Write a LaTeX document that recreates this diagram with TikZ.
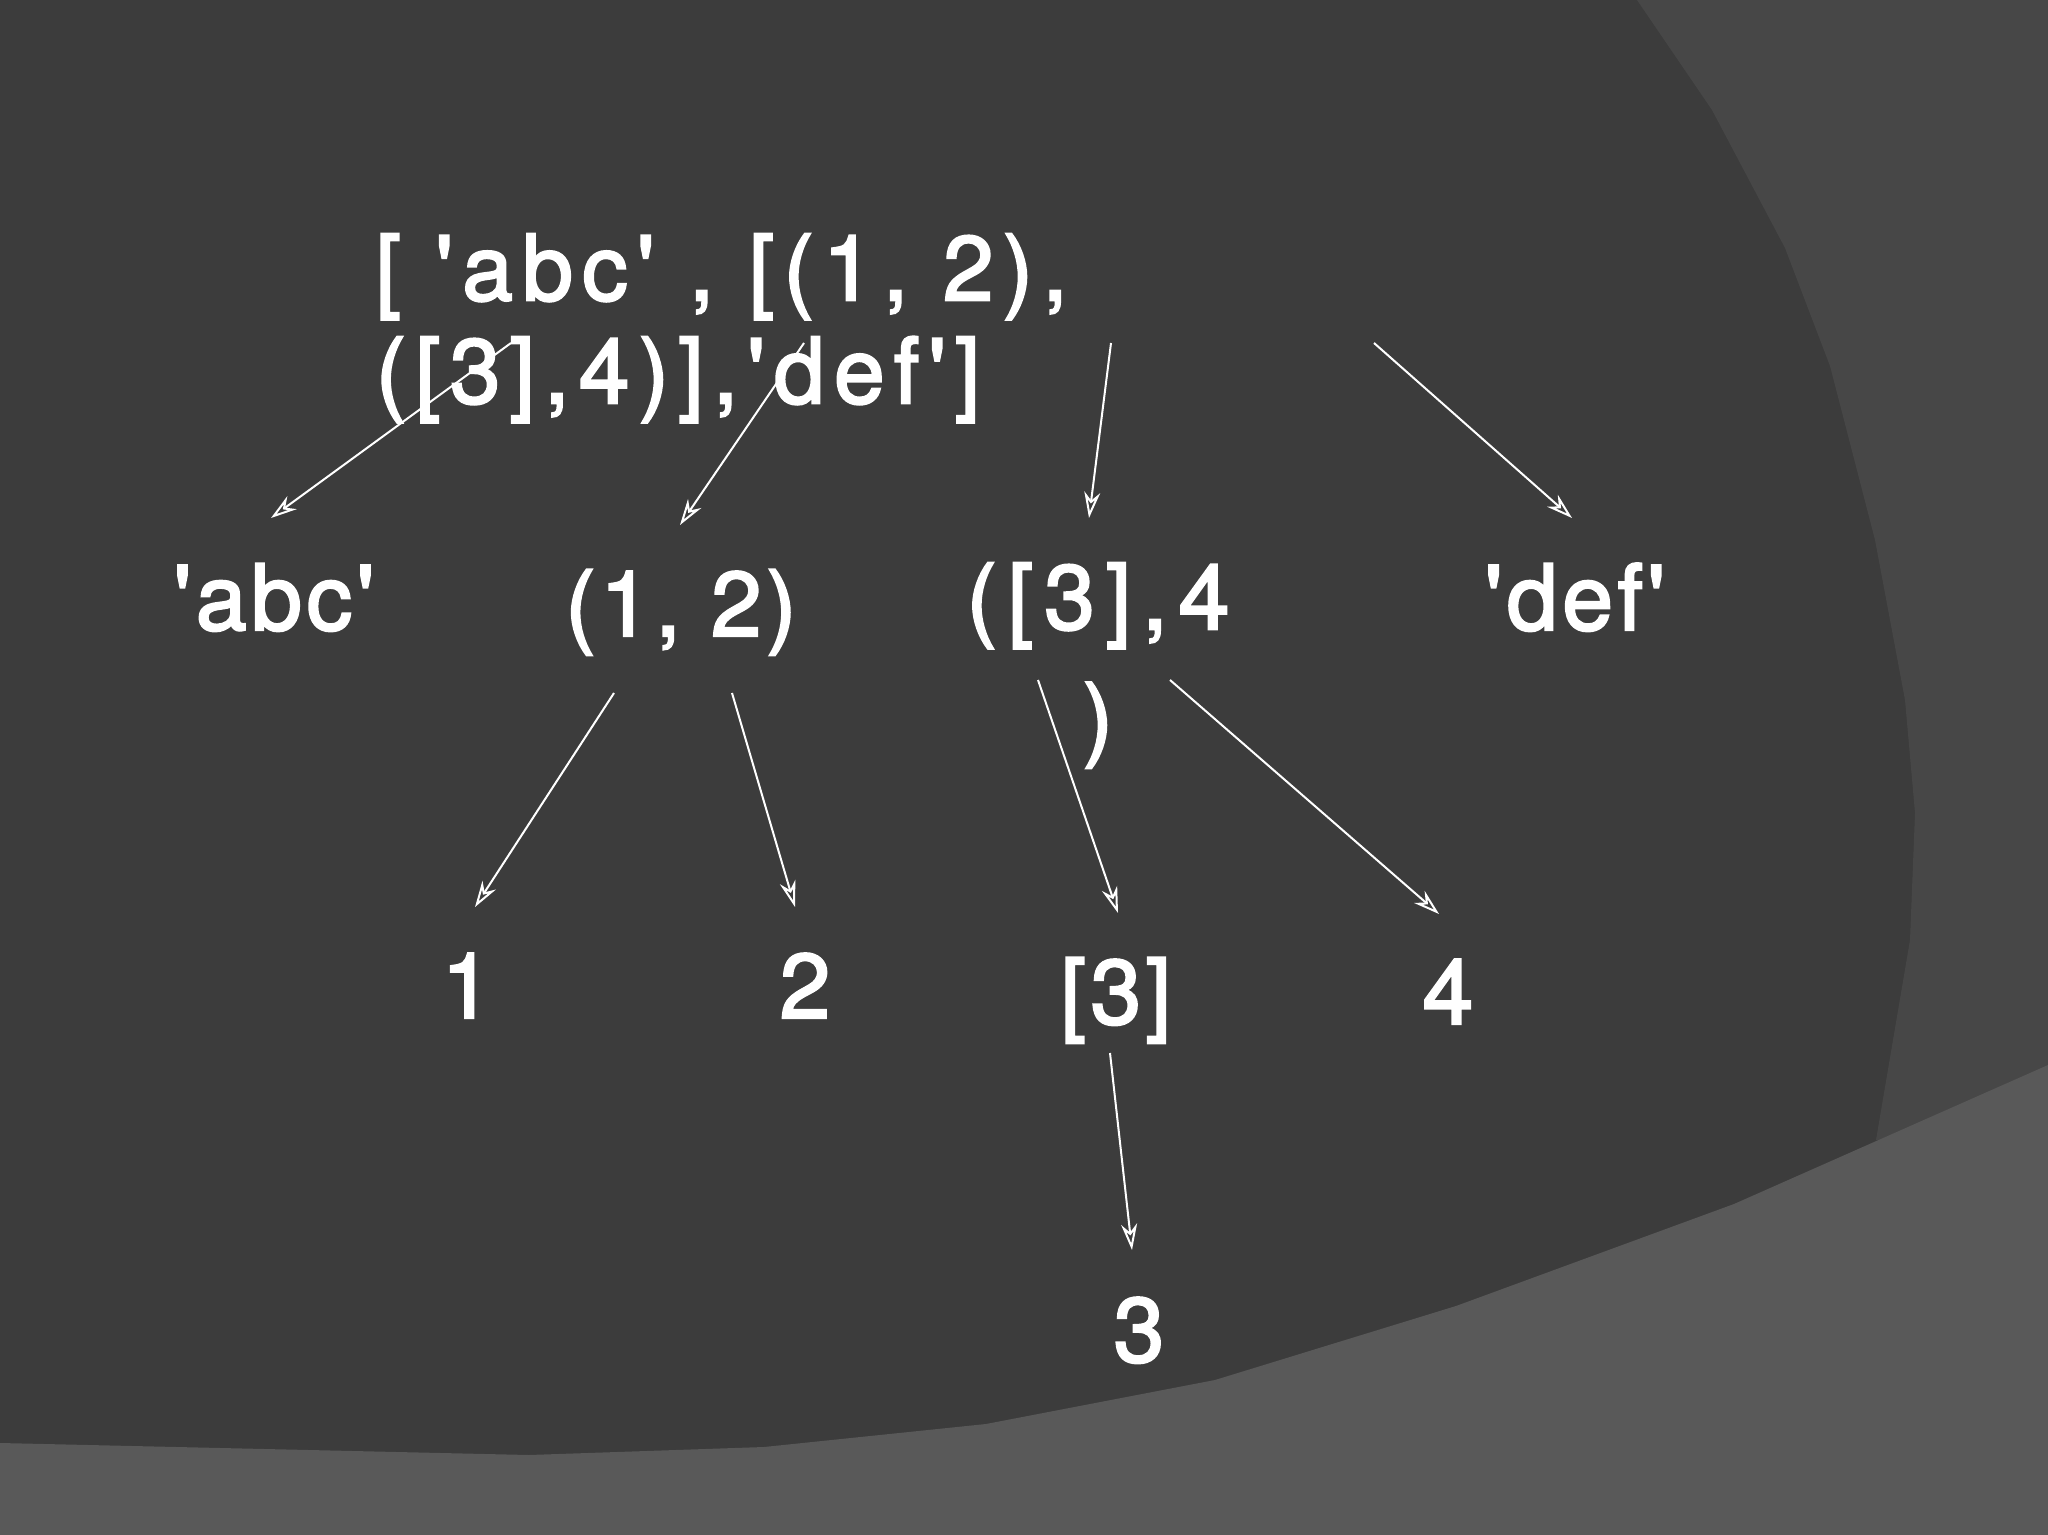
\documentclass[tikz,border=0pt]{standalone}
\usepackage{fontspec}
\setmainfont{TeX Gyre Heros}[Ligatures=TeXOff,FakeBold=2.4]
\usetikzlibrary{arrows.meta}

\definecolor{slidebg}{HTML}{3C3C3C}
\definecolor{slidepanel}{HTML}{474747}
\definecolor{slidefloor}{HTML}{595959}

\begin{document}
\begin{tikzpicture}[x=0.1mm,y=-0.1mm,
  txt/.style={text=white,inner sep=0pt,font=\fontsize{26}{29.3}\selectfont\addfontfeature{LetterSpace=5}},
  arr/.style={draw=white,line width=0.2mm,-{Stealth[open,length=2.6mm,width=1.6mm]}}]
\useasboundingbox (0,0) rectangle (2048,1535);
% slide background
\fill[slidebg] (0,0) rectangle (2048,1535);
\fill[slidepanel] (1637,0) -- (1712,110) -- (1785,248) -- (1830,366) -- (1875,540)
  -- (1905,700) -- (1915,813) -- (1910,940) -- (1876,1140) -- (2048,1140) -- (2048,0) -- cycle;
\fill[slidefloor] (0,1443) -- (529,1455) -- (764,1447) -- (986,1424) -- (1215,1380)
  -- (1456,1306) -- (1734,1204) -- (2048,1065) -- (2048,1535) -- (0,1535) -- cycle;

% the list and its parts
\node[txt,anchor=north west,align=left,font=\fontsize{26}{29.3}\selectfont\addfontfeature{LetterSpace=10}] (root) at (375,233)
  {[ 'abc' , [(1, 2),\\([3],4)],'def']};
\node[txt,anchor=base] (abc) at (274,630) {'abc'};
\node[txt,anchor=base] (onetwo) at (681,636) {(1, 2)};
\node[txt,anchor=north,align=center,font=\fontsize{26}{34}\selectfont\addfontfeature{LetterSpace=12}] (pair) at (1098,562) {([3],4\\)};
\node[txt,anchor=base] (def) at (1575,630) {'def'};
\node[txt,anchor=base] (one) at (467,1018) {1};
\node[txt,anchor=base] (two) at (805,1018) {2};
\node[txt,anchor=base] (lst) at (1116,1024) {[3]};
\node[txt,anchor=base] (four) at (1448,1024) {4};
\node[txt,anchor=base] (three) at (1139,1362) {3};

% arrow ends
\coordinate (root-abc) at (511,343);
\coordinate (root-onetwo) at (804,343);
\coordinate (root-pair) at (1111,343);
\coordinate (root-def) at (1374,343);
\coordinate (abc-in) at (271,518);
\coordinate (onetwo-in) at (680,525);
\coordinate (pair-in) at (1089,518);
\coordinate (def-in) at (1572,518);
\coordinate (onetwo-one) at (614,693);
\coordinate (onetwo-two) at (732,693);
\coordinate (one-in) at (475,907);
\coordinate (two-in) at (795,907);
\coordinate (pair-lst) at (1038,680);
\coordinate (pair-four) at (1170,680);
\coordinate (lst-in) at (1118,913);
\coordinate (four-in) at (1439,914);
\coordinate (lst-three) at (1110,1053);
\coordinate (three-in) at (1132,1250);

\draw[arr] (root-abc) -- (abc-in);
\draw[arr] (root-onetwo) -- (onetwo-in);
\draw[arr] (root-pair) -- (pair-in);
\draw[arr] (root-def) -- (def-in);
\draw[arr] (onetwo-one) -- (one-in);
\draw[arr] (onetwo-two) -- (two-in);
\draw[arr] (pair-lst) -- (lst-in);
\draw[arr] (pair-four) -- (four-in);
\draw[arr] (lst-three) -- (three-in);
\end{tikzpicture}
\end{document}
